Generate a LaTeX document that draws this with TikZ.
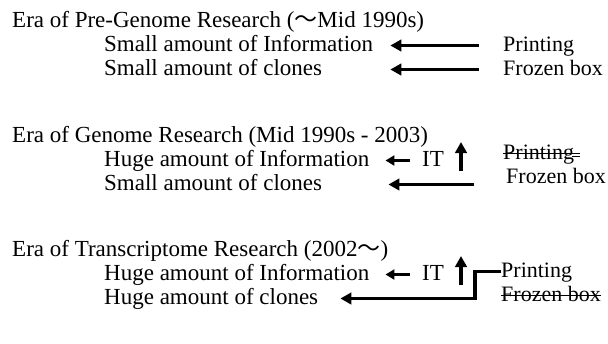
\documentclass[tikz,border=0pt]{standalone}
\usepackage{fontspec}
\setmainfont{Liberation Serif}
\newfontfamily\cjk{Noto Sans CJK JP}
\usetikzlibrary{arrows.meta}
\begin{document}
\begin{tikzpicture}[x=1pt,y=-1pt,
    txt/.style={anchor=base west,inner sep=0pt,text height=16pt,text depth=5pt,font=\fontsize{23}{25}\selectfont},
    side/.style={txt,font=\fontsize{22}{24}\selectfont},
    bigarr/.style={line width=3.5pt,-{Triangle[length=11pt,width=11.5pt]}},
    smallarr/.style={line width=3pt,-{Triangle[length=9pt,width=10pt]}},
    strike/.style={line width=1pt}]
    \useasboundingbox (0,0) rectangle (608,343);

    % pre-genome
    \node[txt] (era1) at (12,27) {Era of Pre-Genome Research ({\cjk ～}Mid 1990s)};
    \node[txt] (info1) at (104,51) {Small amount of Information};
    \node[txt] (clon1) at (104,75) {Small amount of clones};
    \node[side] (prn1) at (503,51) {Printing};
    \node[side] (frz1) at (503,75) {Frozen box};
    \draw[bigarr,shorten <=24pt,shorten >=17pt] (prn1) -- (info1);
    \draw[bigarr,shorten <=24pt,shorten >=17pt] (frz1) -- (info1.east |- frz1);

    % genome
    \node[txt] (era2) at (12,142) {Era of Genome Research (Mid 1990s - 2003)};
    \node[txt] (info2) at (104,166) {Huge amount of Information};
    \node[txt] (clon2) at (104,190) {Small amount of clones};
    \node[txt] (it2) at (422,166) {IT};
    \node[side] (prn2) at (503,159) {Printing};
    \node[side] (frz2) at (506,183) {Frozen box};
    \coordinate (up2) at (461,171);
    \coordinate (tail2) at (474,184.5);
    \draw[smallarr,shorten <=12pt,shorten >=16pt] (it2) -- (info2);
    \draw[bigarr] (up2) -- ++(0,-29);
    \draw[bigarr,shorten >=19pt] (tail2) -- (info2.east |- tail2);
    \draw[strike] (prn2.west) -- ([xshift=6pt]prn2.east);
    \draw[strike] ([xshift=-2pt,yshift=-3pt]prn2.east) -- ++(8,0);

    % transcriptome
    \node[txt] (era3) at (12,256) {Era of Transcriptome Research (2002{\cjk ～})};
    \node[txt] (info3) at (104,280) {Huge amount of Information};
    \node[txt] (clon3) at (104,304) {Huge amount of clones};
    \node[txt] (it3) at (422,280) {IT};
    \node[side] (prn3) at (501,277) {Printing};
    \node[side] (frz3) at (501,301) {Frozen box};
    \coordinate (up3) at (461,285);
    \draw[smallarr,shorten <=12pt,shorten >=16pt] (it3) -- (info3);
    \draw[bigarr] (up3) -- ++(0,-29);
    \draw[bigarr,shorten >=22pt] (prn3.west) -- ++(-26,0) |- (clon3);
    \draw[strike] (frz3.west) -- (frz3.east);
\end{tikzpicture}
\end{document}
